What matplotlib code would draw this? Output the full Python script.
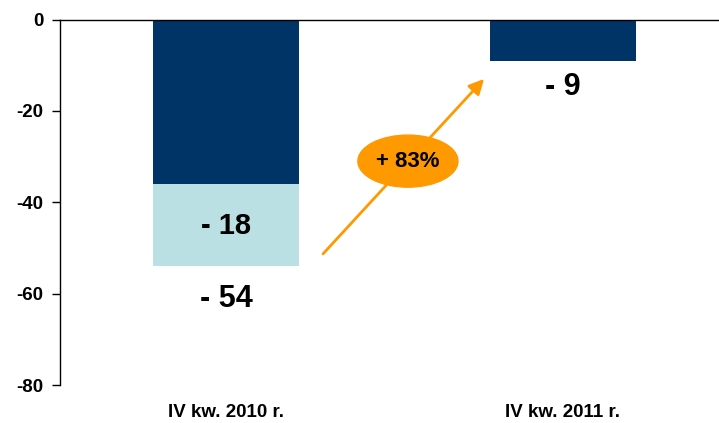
import matplotlib.pyplot as plt
from matplotlib.patches import Ellipse

categories = ["IV kw. 2010 r.", "IV kw. 2011 r."]
base_values = [-36, -9]
extra_values = [-18, 0]
bar_labels = ["- 54", "- 9"]
extra_label = "- 18"
change_label = "+ 83%"

navy = "#003366"
light = "#BAE0E3"
orange = "#FF9900"

plt.rcParams['font.family'] = ['Liberation Sans', 'DejaVu Sans']
plt.rcParams['axes.unicode_minus'] = False

fig = plt.figure(figsize=(7.19, 4.23), dpi=100)
ax = fig.add_axes([0.0834, 0.0898, 0.9166, 0.8641])

x = list(range(len(categories)))
w = 0.436
ax.bar(x, base_values, width=w, color=navy, zorder=2)
ax.bar(x, extra_values, width=w, bottom=base_values, color=light, zorder=2)

totals = [b + e for b, e in zip(base_values, extra_values)]
# value labels
ax.text(x[0], base_values[0] + extra_values[0] / 2 - 0.3, extra_label,
        ha='center', va='center', fontsize=21, fontweight='bold')
for xi, t, lab, off in zip(x, totals, bar_labels, [4.0, 2.6]):
    ax.text(xi, t - off, lab, ha='center', va='top', fontsize=22, fontweight='bold')

# growth arrow
ax.annotate("", xy=(0.766, -13.0), xytext=(0.288, -51.3),
            arrowprops=dict(arrowstyle='-|>,head_length=0.9,head_width=0.45',
                            color=orange, lw=2, shrinkA=0, shrinkB=0), zorder=3)
ax.add_patch(Ellipse((0.540, -31.0), 0.297, 11.4, color=orange, zorder=4))
ax.text(0.540, -31.0, change_label, ha='center', va='center',
        fontsize=16, fontweight='bold', zorder=5)

ax.set_xlim(-0.4926, 1.463)
ax.set_ylim(-80, 0)
ax.set_yticks([0, -20, -40, -60, -80])
ax.set_xticks(x)
ax.set_xticklabels(categories, fontsize=13.5, fontweight='bold')
for lab in ax.get_yticklabels():
    lab.set_fontweight('bold')
    lab.set_fontsize(13.5)
ax.tick_params(axis='x', length=0, pad=14)
ax.tick_params(axis='y', length=6, width=1, pad=6)
ax.spines['right'].set_visible(False)
ax.spines['bottom'].set_visible(False)
ax.spines['top'].set_linewidth(1)
ax.spines['left'].set_linewidth(1)

fig.savefig("out.png", dpi=100)
